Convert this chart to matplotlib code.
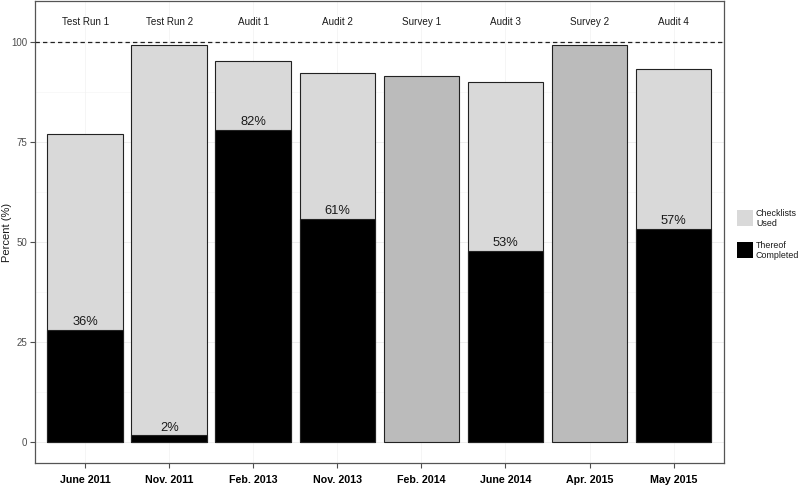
import matplotlib.pyplot as plt
from matplotlib.patches import Rectangle

plt.rcParams['font.family'] = ['Liberation Sans', 'DejaVu Sans']

# data
dates = ['June 2011', 'Nov. 2011', 'Feb. 2013', 'Nov. 2013',
         'Feb. 2014', 'June 2014', 'Apr. 2015', 'May 2015']
events = ['Test Run 1', 'Test Run 2', 'Audit 1', 'Audit 2',
          'Survey 1', 'Audit 3', 'Survey 2', 'Audit 4']
used = [77.1, 99.3, 95.3, 92.2, 91.6, 89.9, 99.3, 93.2]
completed = [28.1, 1.7, 78.0, 55.8, None, 47.9, None, 53.4]
pct_labels = ['36%', '2%', '82%', '61%', None, '53%', None, '57%']

fig = plt.figure(figsize=(8, 4.86), dpi=100)
ax = fig.add_axes([0.0434, 0.0467, 0.905 - 0.0434, 0.998 - 0.0467])

x = list(range(1, len(dates) + 1))

# faint grid like theme_bw
for g in [0, 25, 50, 75, 100]:
    ax.axhline(g, color='#EBEBEB', lw=0.6, zorder=0)
for g in [12.5, 37.5, 62.5, 87.5]:
    ax.axhline(g, color='#F4F4F4', lw=0.4, zorder=0)
for xi in x:
    ax.axvline(xi, color='#F2F2F2', lw=0.5, zorder=0)

for i in range(len(x)):
    is_survey = events[i].startswith('Survey')
    fill = '#BBBBBB' if is_survey else '#D9D9D9'
    ax.bar(x[i], used[i], width=0.9, color=fill, edgecolor='#222222',
           linewidth=0.8, zorder=2)
    if completed[i] is not None:
        ax.bar(x[i], completed[i], width=0.9, color='black',
               edgecolor='#222222', linewidth=0.8, zorder=3)
        ax.text(x[i], completed[i] + 0.4, pct_labels[i], ha='center',
                va='bottom', fontsize=9.3, color='#1A1A1A', zorder=4)
    ax.text(x[i], 105, events[i], ha='center', va='center', fontsize=7.1,
            color='#1A1A1A')

ax.axhline(100, color='#222222', lw=0.9, ls=(0, (3.5, 2.5)), zorder=5)

ax.set_xlim(0.4, 8.6)
ax.set_ylim(-5.25, 110.25)
ax.set_xticks(x)
ax.set_xticklabels(dates, fontsize=7.7, fontweight='bold', color='black')
ax.set_yticks([0, 25, 50, 75, 100])
ax.set_yticklabels(['0', '25', '50', '75', '100'], fontsize=7,
                   color='#4D4D4D')
ax.tick_params(axis='both', length=3.5, width=0.8, color='#4D4D4D')
ax.tick_params(axis='x', pad=5)
ax.tick_params(axis='y', pad=2)
for s in ax.spines.values():
    s.set_color('#555555')
    s.set_linewidth(0.9)

fig.text(7.5 / 800, 1 - 232 / 486, 'Percent (%)', rotation=90, fontsize=8,
         ha='center', va='center', color='#1A1A1A')

# legend drawn by hand on the figure
W, H = 800, 486
keys = [('#D9D9D9', 'Checklists\nUsed', 210),
        ('white', None, 226),
        ('black', 'Thereof\nCompleted', 242)]
for col, lab, top in keys:
    fig.add_artist(Rectangle((737 / W, 1 - (top + 16) / H), 16 / W, 16 / H,
                             transform=fig.transFigure, facecolor=col,
                             edgecolor='none'))
    if lab:
        fig.text(756 / W, 1 - (top + 8.5) / H, lab, fontsize=6.4,
                 va='center', ha='left', color='#1A1A1A', linespacing=1.0)

fig.savefig('out.png', dpi=100)
